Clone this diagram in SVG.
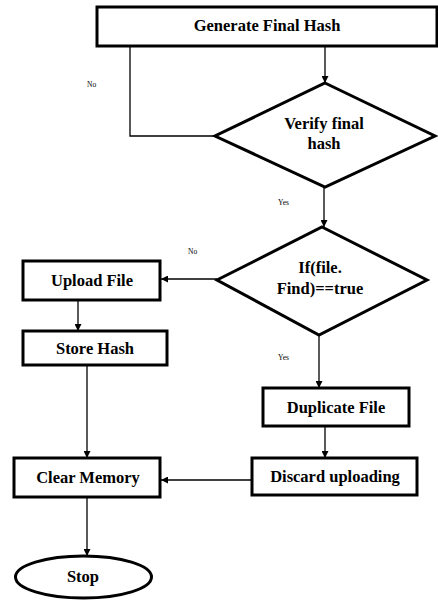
<svg xmlns="http://www.w3.org/2000/svg" width="438" height="600" viewBox="0 0 438 600">
<defs>
<style>
.box{fill:#fff;stroke:#000;stroke-width:3}
.t{font-family:'Liberation Serif','Times New Roman',Times,serif;font-weight:700;font-size:16.5px;text-anchor:middle;fill:#000}
.lbl{font-family:'Liberation Serif','Times New Roman',Times,serif;font-size:7.5px;fill:#000}
.c{fill:none;stroke:#000;stroke-width:1.3}
</style>
<marker id="arr" viewBox="0 0 10 10" refX="10" refY="5" markerWidth="7" markerHeight="7" markerUnits="userSpaceOnUse" orient="auto">
<path d="M0,0 L10,5 L0,10 z" fill="#000"/>
</marker>
</defs>
<rect width="438" height="600" fill="#fff"/>
<g id="connectors">
<line class="c" x1="325" y1="46" x2="325" y2="83" marker-end="url(#arr)"/>
<polyline class="c" points="215,136 130,136 130,46"/>
<line class="c" x1="324" y1="187" x2="324" y2="227" marker-end="url(#arr)"/>
<line class="c" x1="217" y1="279" x2="161" y2="279" marker-end="url(#arr)"/>
<line class="c" x1="78" y1="300" x2="78" y2="331" marker-end="url(#arr)"/>
<line class="c" x1="87" y1="365" x2="87" y2="458" marker-end="url(#arr)"/>
<line class="c" x1="319" y1="335" x2="319" y2="388" marker-end="url(#arr)"/>
<line class="c" x1="325" y1="426" x2="325" y2="458" marker-end="url(#arr)"/>
<line class="c" x1="252" y1="480" x2="161" y2="480" marker-end="url(#arr)"/>
<line class="c" x1="87" y1="497" x2="87" y2="556" marker-end="url(#arr)"/>
<text class="lbl" x="87" y="87">No</text>
<text class="lbl" x="278" y="205">Yes</text>
<text class="lbl" x="188" y="254">No</text>
<text class="lbl" x="278" y="360">Yes</text>
</g>
<g id="generate">
<rect class="box" x="97" y="7" width="340" height="39"/>
<text class="t" x="267" y="31">Generate Final Hash</text>
</g>
<g id="verify">
<polygon class="box" points="325,83 435,136 325,187 215,136"/>
<text class="t" x="324" y="129">Verify final</text>
<text class="t" x="324" y="149">hash</text>
</g>
<g id="iffind">
<polygon class="box" points="322,227 427,280 319,335 217,280"/>
<text class="t" x="320" y="273">If(file.</text>
<text class="t" x="320" y="294">Find)==true</text>
</g>
<g id="upload">
<rect class="box" x="23" y="261" width="137" height="39"/>
<text class="t" x="92" y="286">Upload File</text>
</g>
<g id="store">
<rect class="box" x="23" y="331" width="144" height="34"/>
<text class="t" x="95" y="354">Store Hash</text>
</g>
<g id="duplicate">
<rect class="box" x="263" y="388" width="146" height="38"/>
<text class="t" x="336" y="413">Duplicate File</text>
</g>
<g id="discard">
<rect class="box" x="252" y="458" width="165" height="37"/>
<text class="t" x="335" y="482">Discard uploading</text>
</g>
<g id="clear">
<rect class="box" x="14" y="458" width="146" height="39"/>
<text class="t" x="88" y="483">Clear Memory</text>
</g>
<g id="stop">
<ellipse class="box" cx="83.5" cy="577" rx="68" ry="21"/>
<text class="t" x="83" y="582">Stop</text>
</g>
</svg>
